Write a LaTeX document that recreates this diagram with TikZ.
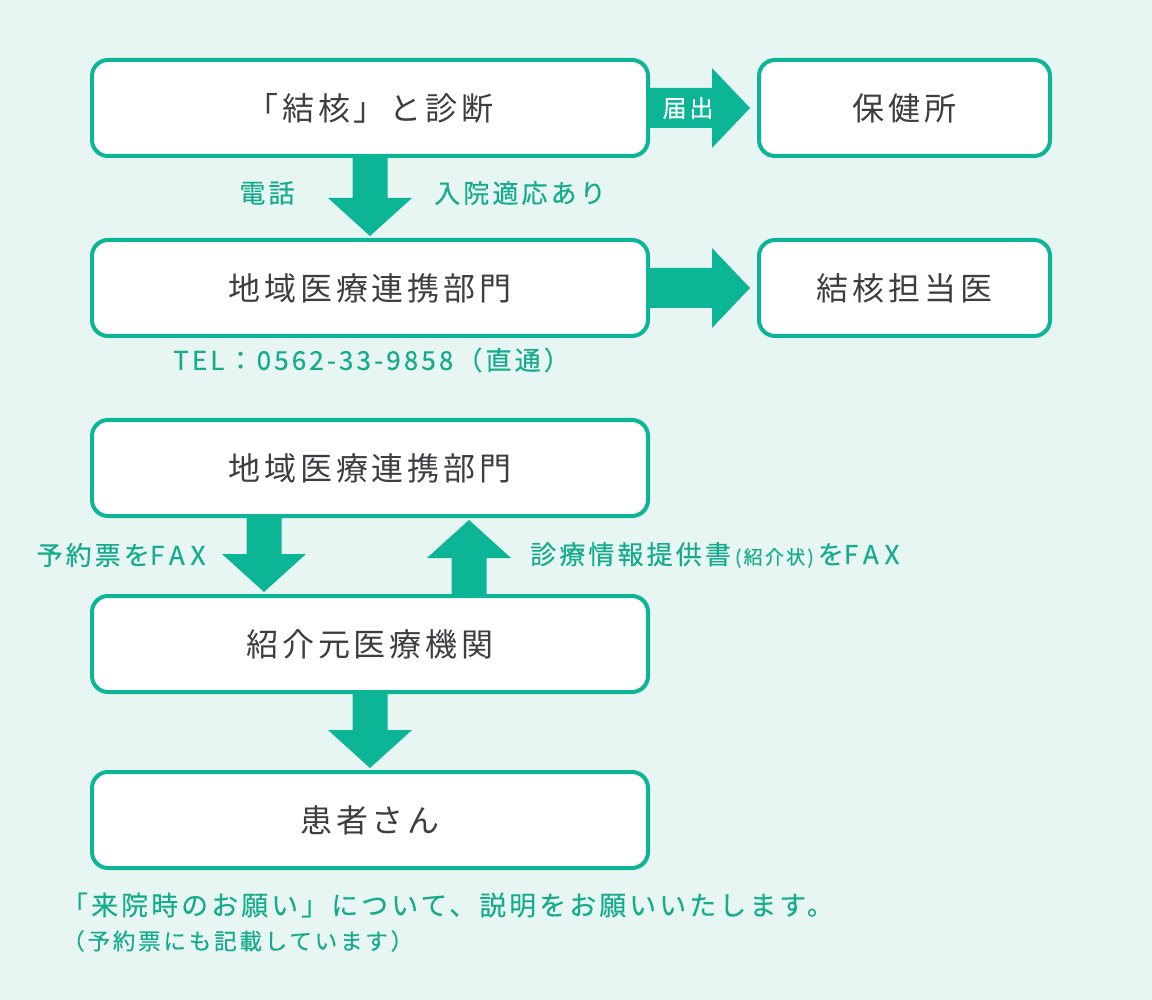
\documentclass[tikz,border=0pt]{standalone}
\usepackage{fontspec}
\setmainfont{Noto Sans CJK JP}
\newfontfamily\boxfont[LetterSpace=12]{Noto Sans CJK JP}
\newfontfamily\notefont[LetterSpace=12,FakeBold=0.3]{Noto Sans CJK JP}
\newfontfamily\latinfont[LetterSpace=22,FakeBold=0.3]{Noto Sans CJK JP}
\usetikzlibrary{calc,positioning}

\definecolor{brand}{HTML}{0BB596}
\definecolor{brandtext}{HTML}{14AC8C}
\definecolor{paper}{HTML}{E8F6F3}
\definecolor{ink}{HTML}{3C3F42}

\tikzset{
	arrshaft/.store in=\arrshaft, arrshaft=17.5pt,
	arrhead/.store in=\arrhead, arrhead=42pt,
	arrtip/.store in=\arrtip, arrtip=38pt,
	box/.style={draw=brand,line width=4pt,fill=white,rounded corners=16pt,
		minimum width=556pt,minimum height=96pt,outer sep=0pt,text=ink,
		font=\boxfont\fontsize{32}{36}\selectfont},
	smallbox/.style={box,minimum width=291pt},
	note/.style={text=brandtext,inner sep=0pt,
		font=\notefont\fontsize{26}{30}\selectfont},
	blockarrow/.style={fill=brand,draw=none,to path={
		let \p1=(\tikztostart), \p2=(\tikztotarget),
		\p3=($(\p2)!\arrtip!(\p1)$) in
		($(\p1)!\arrshaft!90:(\p2)$)
		-- ($(\p3)!\arrshaft!90:(\p2)$)
		-- ($(\p3)!\arrhead!90:(\p2)$)
		-- (\p2)
		-- ($(\p3)!\arrhead!-90:(\p2)$)
		-- ($(\p3)!\arrshaft!-90:(\p2)$)
		-- ($(\p1)!\arrshaft!-90:(\p2)$)
		-- cycle}},
	sidearrow/.style={blockarrow,arrshaft=20pt,arrhead=40pt},
}

\begin{document}
\begin{tikzpicture}[x=1pt,y=-1pt]

	\fill[paper] (0,0) rectangle (1152,1000);

	% boxes
	\node[box] (diag) at (370,108) {「結核」と診断};
	\node[smallbox,right=111pt of diag] (hoken) {保健所};
	\node[box,below=84pt of diag] (renkei1) {地域医療連携部門};
	\node[smallbox,right=111pt of renkei1] (tanto) {結核担当医};
	\node[box,below=84pt of renkei1] (renkei2) {地域医療連携部門};
	\node[box,below=80pt of renkei2] (shokai) {紹介元医療機関};
	\node[box,below=80pt of shokai] (kanja) {患者さん};

	% arrows
	\path[blockarrow] (diag.south) to ([yshift=4pt]renkei1.north);
	\path[sidearrow] (diag.east) to ([xshift=-9pt]hoken.west);
	\path[sidearrow] (renkei1.east) to ([xshift=-9pt]tanto.west);
	\path[blockarrow] ([xshift=-106pt]renkei2.south) to ([xshift=-106pt,yshift=4pt]shokai.north);
	\path[blockarrow] ([xshift=99pt]shokai.north) to ([xshift=99pt,yshift=-4pt]renkei2.south);
	\path[blockarrow] (shokai.south) to ([yshift=4pt]kanja.north);

	\node[text=white,inner sep=0pt,font=\notefont\fontsize{24}{28}\selectfont]
		(todokede) at ([xshift=40pt]diag.east) {届出};

	% labels
	\node[note] (denwa) at (267,193) {電話};
	\node[note] (tekio) at (520,193) {入院適応あり};
	\node[note,anchor=west] (tel) at (173,360) {TEL：0562-33-9858（直通）};
	\node[note] (yoyaku) at (121,555) {予約票を{\latinfont FAX}};
	\node[note,anchor=west] (teikyo) at (530,555)
		{診療情報提供書{\fontsize{19}{22}\selectfont\hspace{4pt}(紹介状)\hspace{4pt}}を{\latinfont FAX}};

	\node[note,anchor=west,font=\notefont\fontsize{26.8}{30}\selectfont]
		(onegai) at (61,905) {「来院時のお願い」について、説明をお願いいたします。};
	\node[note,anchor=west,font=\notefont\fontsize{22.6}{26}\selectfont]
		(kisai) at (62,941) {（予約票にも記載しています）};

\end{tikzpicture}
\end{document}
